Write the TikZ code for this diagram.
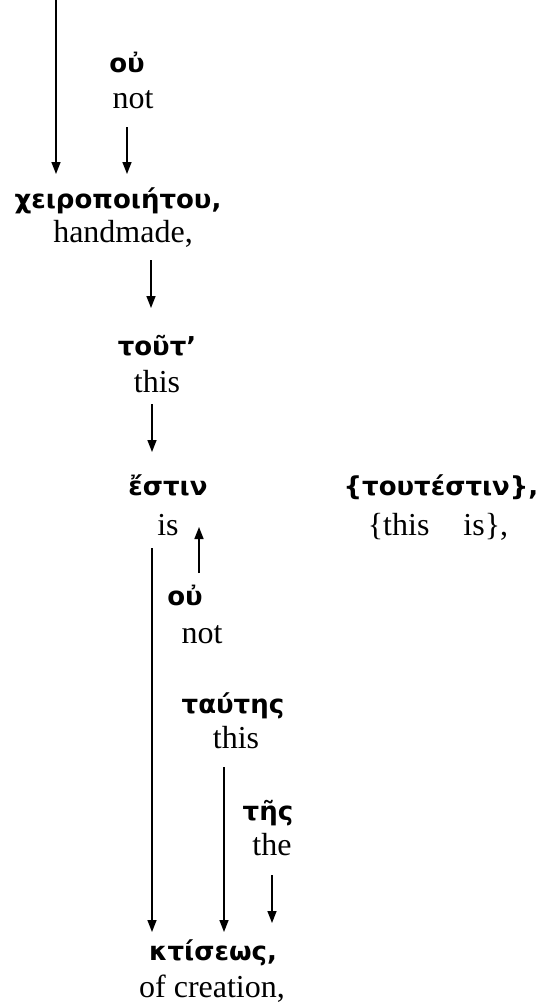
\documentclass[tikz,border=0pt]{standalone}
\usepackage{fontspec}
\setmainfont{Liberation Serif}
\newfontfamily\grk{DejaVu Sans}
\usetikzlibrary{arrows.meta,calc}
\tikzset{
  gk/.style={anchor=base, inner sep=0pt, font=\grk\bfseries\fontsize{26}{30}\selectfont},
  en/.style={anchor=base, inner sep=0pt, font=\fontsize{32}{38}\selectfont},
  arr/.style={line width=1.5pt, -{Triangle[length=12pt,width=9pt]}}
}
\begin{document}
\begin{tikzpicture}[x=1pt,y=-1pt]
\useasboundingbox (0,0) rectangle (538,1007);
% words
\node[gk] (ou1) at (127,72) {οὐ};
\node[en] (not1) at (133,108) {not};
\node[gk] (cheir) at (118,208) {χειροποιήτου,};
\node[en] (hand) at (123,242) {handmade,};
\node[gk] (tout) at (157,355) {τοῦτ’};
\node[en] (this1) at (157,392) {this};
\node[gk] (estin) at (168,495) {ἔστιν};
\node[en] (is) at (168,535) {is};
\node[gk] (toutestin) at (441,495) {\{τουτέστιν\},};
\node[en] (thisis) at (438,535) {\{this\hspace{34pt}is\},};
\node[gk] (ou2) at (185,605) {οὐ};
\node[en] (not2) at (202,643) {not};
\node[gk] (tautes) at (233,713) {ταύτης};
\node[en] (this2) at (236,748) {this};
\node[gk] (tes) at (268,820) {τῆς};
\node[en] (the) at (272,855) {the};
\node[gk] (ktis) at (213,960) {κτίσεως,};
\node[en] (ofcr) at (212,997) {of creation,};
% free end
\coordinate (top) at (56,0);
% connectors
\draw[arr] (top) -- ($(cheir.base)+(-62,-34)$);
\draw[arr] ($(not1.base)+(-6,19)$) -- ($(cheir.base)+(9,-34)$);
\draw[arr] ($(hand.base)+(28,18)$) -- ($(tout.base)+(-6,-47)$);
\draw[arr] ($(this1.base)+(-5,12)$) -- ($(estin.base)+(-16,-43)$);
\draw[arr] ($(ou2.base)+(14,-32)$) -- ($(is.base)+(31,-8)$);
\draw[arr] ($(is.base)+(-16,13)$) -- ($(ktis.base)+(-61,-28)$);
\draw[arr] ($(this2.base)+(-12,19)$) -- ($(ktis.base)+(11,-28)$);
\draw[arr] ($(the.base)+(0,20)$) -- ($(ktis.base)+(59,-37)$);
\end{tikzpicture}
\end{document}
